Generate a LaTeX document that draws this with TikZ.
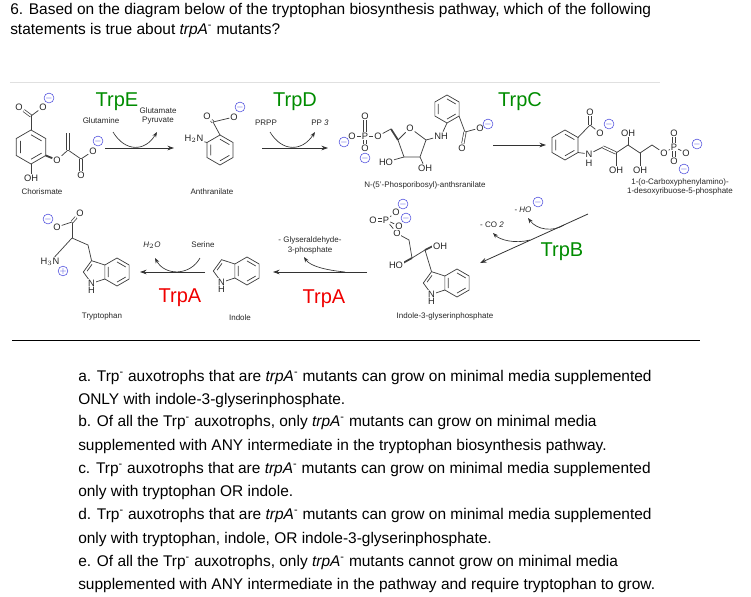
\documentclass[tikz,border=0pt]{standalone}
\usepackage{fontspec}
\setmainfont{Liberation Sans}
\usetikzlibrary{arrows.meta,calc}
\definecolor{tgreen}{RGB}{0,140,0}
\definecolor{tred}{RGB}{240,0,0}
\definecolor{negblue}{RGB}{70,70,220}
\tikzset{
 bond/.style={line width=0.55pt,draw=black!75},
 lab/.style={font=\fontsize{6}{7}\selectfont,text=black!85,inner sep=0.5pt},
 atm/.style={font=\fontsize{7}{8}\selectfont,text=black!85,inner sep=0.6pt,fill=white},
 neg/.style={circle,draw=negblue,line width=0.4pt,inner sep=0pt,minimum size=6pt,font=\fontsize{6}{6}\selectfont,text=negblue},
 poscharge/.style={circle,draw=negblue,line width=0.4pt,inner sep=0pt,minimum size=6pt,font=\fontsize{6}{6}\selectfont,text=negblue},
 enzg/.style={font=\fontsize{15}{16}\selectfont,text=tgreen,inner sep=0pt},
 enzr/.style={font=\fontsize{15}{16}\selectfont,text=tred,inner sep=0pt},
 rxn/.style={line width=0.6pt,draw=black!80,-{Stealth[length=5pt,width=3.5pt]}},
 side/.style={line width=0.5pt,draw=black!80,-{Stealth[length=4pt,width=3pt]}},
 qtext/.style={font=\fontsize{11.6}{13}\selectfont,anchor=west,inner sep=0pt},
 dbl/.style={bond,double,double distance=1.2pt},
}
\newcommand\hexr[3]{%
 \draw[bond] (#1,#2) +(90:#3) -- +(30:#3) -- +(-30:#3) -- +(-90:#3) -- +(-150:#3) -- +(150:#3) -- cycle;
 \draw[bond] (#1,#2) +(90:0.72*#3) -- +(30:0.72*#3) +(-30:0.72*#3) -- +(-90:0.72*#3) +(-150:0.72*#3) -- +(150:0.72*#3);}
\newcommand\indolering[4]{% cx cy r name-prefix
 \hexr{#1}{#2}{#3}
 \coordinate (#4a) at ($(#1,#2)+(-0.866*#3,-0.5*#3)$);
 \coordinate (#4b) at ($(#1,#2)+(-0.866*#3,0.5*#3)$);
 \coordinate (#4n) at ($(#1,#2)+(-1.817*#3,0.809*#3)$);
 \coordinate (#4c2) at ($(#1,#2)+(-2.405*#3,0)$);
 \coordinate (#4c3) at ($(#1,#2)+(-1.817*#3,-0.809*#3)$);
 \draw[bond] (#4b) -- (#4n) -- (#4c2) -- (#4c3) -- (#4a);
 \draw[bond] ($(#4c2)!0.2!(#4c3)+(0.15*#3,0.1*#3)$) -- ($(#4c3)!0.2!(#4c2)+(0.15*#3,0.1*#3)$);
 \node[atm] (#4N) at (#4n) {N};
 \node[atm,below=-1pt] (#4H) at (#4N.south) {H};}
\begin{document}
\begin{tikzpicture}[x=0.75pt,y=-0.75pt]
\useasboundingbox (0,0) rectangle (751,597);
% question
\node[qtext] (q1) at (10,10) {6. Based on the diagram below of the tryptophan biosynthesis pathway, which of the following};
\node[qtext] (q2) at (10,30) {statements is true about \textit{trpA}\textsuperscript{-} mutants?};
\draw[black!12,line width=0.5pt] (10,82) -- (660,82);

% ---------- Chorismate
\hexr{31}{147}{17}
\coordinate (ch1) at (31,130); \coordinate (ch4) at (31,164); \coordinate (ch3) at (45.7,155.5);
\draw[bond] (ch1) -- (31,116) coordinate (chc);
\node[atm] (chO1) at (19,107) {O}; \node[atm] (chO2) at (43,107) {O};
\draw[dbl] (chc) -- (chO1); \draw[bond] (chc) -- (chO2);
\node[neg] (chm1) at (49,98) {$-$};
\node[atm] (chOH) at (31,178) {OH}; \draw[bond] (ch4) -- (chOH);
\node[atm] (chO3) at (57,160) {O}; \draw[line width=1.4pt,black!75] (ch3) -- (chO3);
\coordinate (chc5) at (68,150); \coordinate (chc6) at (81,159);
\draw[bond] (chO3) -- (chc5) -- (chc6);
\draw[dbl] (chc5) -- (68,133);
\node[atm] (chO4) at (81,175) {O}; \draw[dbl] (chc6) -- (chO4);
\node[atm] (chO5) at (93,151) {O}; \draw[bond] (chc6) -- (chO5);
\node[neg] (chm2) at (98,141) {$-$};
\node[lab] (chorl) at (42,192) {Chorismate};

% ---------- TrpE
\node[enzg] (trpe) at (117,102) {TrpE};
\node[lab] (glm) at (101,121) {Glutamine};
\node[lab] (glu) at (158,111) {Glutamate};
\node[lab] (pyr) at (158,121) {Pyruvate};
\coordinate (e1) at (105,148); \coordinate (e2) at (174,148);
\draw[rxn] (e1) -- (e2);
\coordinate (es) at (113,132); \coordinate (ee) at (157,132);
\draw[side] (es) .. controls (125,152) and (145,152) .. (ee);

% ---------- Anthranilate
\hexr{220}{150}{15}
\coordinate (an1) at (220,135); \coordinate (an6) at (207,142.5);
\draw[bond] (an1) -- (213,122) coordinate (anc);
\node[atm] (anO1) at (207,116) {O}; \node[atm] (anO2) at (234,117) {O};
\draw[dbl] (anc) -- (anO1); \draw[bond] (anc) -- (anO2);
\node[neg] (anm) at (240,107) {$-$};
\node[atm] (anN) at (194,139) {H$_2$N}; \draw[bond] (an6) -- (anN);
\node[lab] (anl) at (212,192) {Anthranilate};

% ---------- TrpD
\node[enzg] (trpd) at (295,102) {TrpD};
\node[lab] (prpp) at (266,123) {PRPP};
\node[lab] (pp3) at (320,123) {PP \textit{3}};
\draw[rxn] (262,148) -- (328,148);
\draw[side] (270,132) .. controls (282,152) and (302,152) .. (315,132);

% ---------- PRA
\node[atm] (pP) at (365,136) {P}; \node[atm] (pO1) at (365,116) {O};
\node[atm] (pO2) at (352,136) {O}; \node[atm] (pO3) at (378,136) {O}; \node[atm] (pO4) at (365,148) {O};
\draw[dbl] (pP) -- (pO1);
\draw[bond] (pP) -- (pO2); \draw[bond] (pP) -- (pO3); \draw[dbl] (pP) -- (pO4);
\node[neg] (pm1) at (344,142) {$-$}; \node[neg] (pm2) at (365,158) {$-$};
\coordinate (r5) at (391,129);
\draw[bond] (pO3) -- (r5);
\node[atm] (rO) at (410,128) {O};
\coordinate (r4) at (398,140); \coordinate (r3) at (404,157); \coordinate (r2) at (420,157); \coordinate (r1) at (426,140);
\draw[line width=1.3pt,black!75] (r5) -- (r4);
\draw[bond] (r4) -- (rO) -- (r1) -- (r2) -- (r3) -- (r4);
\node[atm] (rHO) at (386,162) {HO}; \draw[bond] (r3) -- (rHO);
\node[atm] (rOH) at (425,168) {OH}; \draw[bond] (r2) -- (rOH);
\node[atm] (rNH) at (441,136) {NH}; \draw[bond] (r1) -- (rNH);
\hexr{447}{109}{14}
\draw[bond] (rNH) -- (447,123);
\coordinate (pbc) at (465,132);
\draw[bond] (459,116) -- (pbc);
\node[atm] (pbO1) at (462,148) {O}; \node[atm] (pbO2) at (480,128) {O};
\draw[dbl] (pbc) -- (pbO1); \draw[bond] (pbc) -- (pbO2);
\node[neg] (pbm) at (488,124) {$-$};
\node[lab] (pral) at (425,185) {N-(5'-Phosporibosyl)-anthsranilate};

% ---------- TrpC
\node[enzg] (trpc) at (520,102) {TrpC};
\draw[rxn] (493,145) -- (546,145);

% ---------- CDRP
\hexr{565}{145}{15}
\coordinate (cd1) at (578,137.5); \coordinate (cd2) at (578,152.5);
\draw[bond] (cd1) -- (590,125) coordinate (cdc);
\node[atm] (cdO1) at (590,112) {O}; \node[atm] (cdO2) at (600,133) {O};
\draw[dbl] (cdc) -- (cdO1); \draw[bond] (cdc) -- (cdO2);
\node[neg] (cdm1) at (609,124) {$-$};
\node[atm] (cdN) at (589,154) {N}; \node[atm] (cdH) at (589,163) {H};
\draw[bond] (cd2) -- (cdN);
\coordinate (k1) at (603,147); \coordinate (k2) at (616,153); \coordinate (k3) at (628,145); \coordinate (k4) at (640,153); \coordinate (k5) at (652,145);
\draw[bond] (cdN) -- (k1); \draw[dbl] (k1) -- (k2);
\draw[bond] (k2) -- (k3) -- (k4) -- (k5);
\node[atm] (cdOH1) at (628,133) {OH}; \draw[bond] (k3) -- (cdOH1);
\node[atm] (cdOH2) at (616,170) {OH}; \draw[bond] (k2) -- (cdOH2);
\node[atm] (cdOH3) at (640,170) {OH}; \draw[bond] (k4) -- (cdOH3);
\node[atm] (cdO3) at (664,153) {O}; \draw[bond] (k5) -- (cdO3);
\node[atm] (cdP) at (674,147) {P}; \draw[bond] (cdO3) -- (cdP);
\node[atm] (cdO4) at (674,133) {O}; \node[atm] (cdO5) at (686,153) {O}; \node[atm] (cdO6) at (674,161) {O};
\draw[dbl] (cdP) -- (cdO4); \draw[bond] (cdP) -- (cdO5); \draw[dbl] (cdP) -- (cdO6);
\node[neg] (cdm2) at (697,144) {$-$}; \node[neg] (cdm3) at (684,169) {$-$};
\node[lab] (cdl1) at (680,182) {1-(o-Carboxyphenylamino)-};
\node[lab] (cdl2) at (680,191) {1-desoxyribuose-5-phosphate};

% ---------- TrpB
\coordinate (b1) at (588,214); \coordinate (b2) at (480,263);
\draw[rxn] (b1) -- (b2);
\draw[side] (564,225) .. controls (553,232) and (537,230) .. (528,218);
\draw[side] (530,240) .. controls (515,244) and (500,240) .. (493,233);
\node[lab] (ho) at (523,210) {- \textit{HO}}; \node[neg] (hom) at (538,202) {$-$};
\node[lab] (co2) at (492,225) {- CO \textit{2}};
\node[enzg] (trpb) at (562,252) {TrpB};

% ---------- IGP
\indolering{457}{283}{14}{ig}
\coordinate (g1) at (425,250); \coordinate (g2) at (412,258); \coordinate (g3) at (409,240); \coordinate (g4) at (398,234);
\draw[bond] (igc3) -- (g1);
\draw[line width=1.3pt,black!75] (g1) -- (433,246);
\node[atm] (igOH) at (440,246) {OH};
\draw[line width=1.3pt,black!75] (g2) -- (403,263);
\node[atm] (igHO) at (396,265) {HO};
\draw[bond] (g1) -- (g2) -- (g3) -- (g4);
\node[atm] (igO1) at (397,233) {O};
\node[atm] (igP) at (386,220) {P}; \draw[bond] (igO1) -- (igP);
\node[atm] (igO2) at (373,220) {O}; \draw[dbl] (igP) -- (igO2);
\node[atm] (igO3) at (396,212) {O}; \draw[bond] (igP) -- (igO3);
\node[atm] (igO4) at (399,226) {O}; \draw[bond] (igP) -- (igO4);
\node[neg] (igm1) at (403,204) {$-$}; \node[neg] (igm2) at (406,218) {$-$};
\node[lab] (igl) at (445,316) {Indole-3-glyserinphosphate};

% ---------- TrpA (2)
\draw[rxn] (367,272) -- (273,272);
\draw[side] (345,272) .. controls (325,270) and (310,266) .. (304,257);
\node[lab] (gap1) at (310,240) {- Glyseraldehyde-};
\node[lab] (gap2) at (310,250) {3-phosphate};
\node[enzr] (trpa2) at (324,299) {TrpA};

% ---------- Indole
\indolering{247}{271}{14}{in}
\node[lab] (inl) at (240,318) {Indole};

% ---------- TrpA (1)
\draw[rxn] (205,272) -- (140,272);
\draw[side] (200,258) .. controls (190,276) and (165,276) .. (155,258);
\node[lab] (h2o) at (152,245) {\textit{H$_2$O}};
\node[lab] (ser) at (203,245) {Serine};
\node[enzr] (trpa1) at (180,298) {TrpA};

% ---------- Tryptophan
\indolering{117}{272}{14}{tr}
\coordinate (t1) at (88,245); \coordinate (t2) at (72,238);
\draw[bond] (trc3) -- (t1) -- (t2);
\coordinate (t3) at (72,222);
\draw[bond] (t2) -- (t3);
\node[atm] (trO1) at (57,227) {O}; \node[atm] (trO2) at (80,213) {O};
\draw[bond] (t3) -- (trO1); \draw[dbl] (t3) -- (trO2);
\node[neg] (trm) at (48,219) {$-$};
\node[atm] (trN) at (50,262) {H$_3$N};
\draw[bond] (t2) -- (trN);
\node[poscharge] (trp) at (63,271) {$+$};
\node[lab] (trl) at (102,316) {Tryptophan};

% line
\draw[black,line width=0.6pt] (12,340) -- (700,340);

% answers
\node[qtext] (a1) at (78,377) {a. Trp\textsuperscript{-} auxotrophs that are \textit{trpA}\textsuperscript{-} mutants can grow on minimal media supplemented};
\node[qtext] (a2) at (78,400) {ONLY with indole-3-glyserinphosphate.};
\node[qtext] (b1t) at (78,422) {b. Of all the Trp\textsuperscript{-} auxotrophs, only \textit{trpA}\textsuperscript{-} mutants can grow on minimal media};
\node[qtext] (b2t) at (78,446) {supplemented with ANY intermediate in the tryptophan biosynthesis pathway.};
\node[qtext] (c1) at (78,469) {c. Trp\textsuperscript{-} auxotrophs that are \textit{trpA}\textsuperscript{-} mutants can grow on minimal media supplemented};
\node[qtext] (c2) at (78,492) {only with tryptophan OR indole.};
\node[qtext] (d1) at (78,515) {d. Trp\textsuperscript{-} auxotrophs that are \textit{trpA}\textsuperscript{-} mutants can grow on minimal media supplemented};
\node[qtext] (d2) at (78,539) {only with tryptophan, indole, OR indole-3-glyserinphosphate.};
\node[qtext] (e1t) at (78,562) {e. Of all the Trp\textsuperscript{-} auxotrophs, only \textit{trpA}\textsuperscript{-} mutants cannot grow on minimal media};
\node[qtext] (e2t) at (78,585) {supplemented with ANY intermediate in the pathway and require tryptophan to grow.};
\end{tikzpicture}
\end{document}
